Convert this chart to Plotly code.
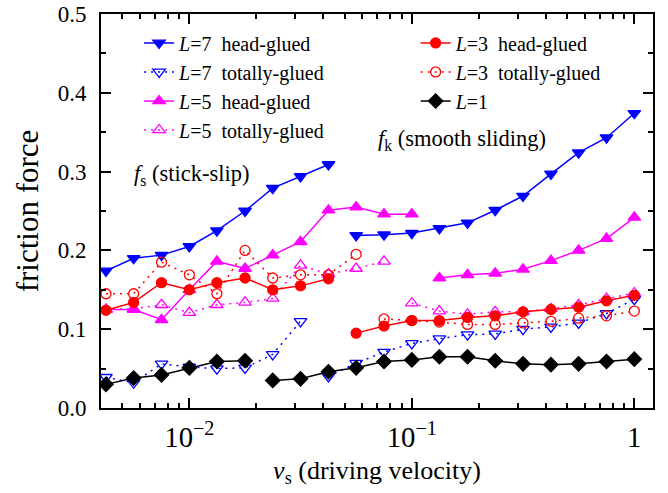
import plotly.graph_objects as go

# driving velocity (x), common for all series
velocity = [0.00422, 0.00562, 0.0075, 0.01, 0.0133, 0.0178, 0.0237, 0.0316, 0.0422, 0.0562,
            0.075, 0.1, 0.133, 0.178, 0.237, 0.316, 0.422, 0.562, 0.75, 1.0]

l7_head = [0.174, 0.190, 0.194, 0.205, 0.225, 0.250, 0.279, 0.294, 0.309,
           0.219, 0.220, 0.222, 0.228, 0.235, 0.251, 0.269, 0.297, 0.324, 0.343, 0.374]
l7_total = [0.039, 0.032, 0.056, 0.052, 0.050, 0.051, 0.068, 0.110,
            0.040, 0.057, 0.071, 0.082, 0.088, 0.093, 0.094, 0.100, 0.103, 0.108, 0.120, 0.138]
l5_head = [0.125, 0.125, 0.112, 0.150, 0.186, 0.177, 0.194, 0.211, 0.251, 0.255, 0.246, 0.246,
           0.165, 0.169, 0.171, 0.176, 0.187, 0.200, 0.215, 0.242]
l5_total = [0.125, 0.126, 0.131, 0.121, 0.131, 0.134, 0.139, 0.181, 0.170, 0.177, 0.186,
            0.133, 0.123, 0.119, 0.122, 0.122, 0.126, 0.131, 0.139, 0.146]
l3_head = [0.124, 0.134, 0.159, 0.150, 0.159, 0.165, 0.150, 0.155, 0.164,
           0.095, 0.104, 0.111, 0.111, 0.115, 0.117, 0.122, 0.125, 0.128, 0.136, 0.143]
l3_total = [0.145, 0.145, 0.185, 0.169, 0.145, 0.200, 0.165, 0.169, 0.169, 0.195,
            0.113, 0.111, 0.109, 0.106, 0.106, 0.108, 0.110, 0.114, 0.117, 0.123]
l1 = [0.030, 0.038, 0.042, 0.051, 0.059, 0.060,
      0.035, 0.037, 0.046, 0.051, 0.059, 0.061, 0.065, 0.065, 0.060, 0.056, 0.055, 0.056, 0.059, 0.062]

# index where the smooth-sliding branch starts (stick-slip branch before it)
breaks = {"l7_head": 9, "l7_total": 8, "l5_head": 12, "l5_total": 11,
          "l3_head": 9, "l3_total": 10, "l1": 6}

SP = "\u00a0\u00a0"
series = [
    ("l7_head", l7_head, f"<i>L</i>=7{SP}head-glued", "#0000FF", "triangle-down", "solid", "legend"),
    ("l7_total", l7_total, f"<i>L</i>=7{SP}totally-glued", "#0000FF", "triangle-down-open", "dot", "legend"),
    ("l5_head", l5_head, f"<i>L</i>=5{SP}head-glued", "#FF00FF", "triangle-up", "solid", "legend"),
    ("l5_total", l5_total, f"<i>L</i>=5{SP}totally-glued", "#FF00FF", "triangle-up-open", "dot", "legend"),
    ("l3_head", l3_head, f"<i>L</i>=3{SP}head-glued", "#FF0000", "circle", "solid", "legend2"),
    ("l3_total", l3_total, f"<i>L</i>=3{SP}totally-glued", "#FF0000", "circle-open", "dot", "legend2"),
    ("l1", l1, "<i>L</i>=1", "#000000", "diamond", "solid", "legend2"),
]

fig = go.Figure()
for key, ys, name, color, symbol, dash, leg in series:
    b = breaks[key]
    size = 10 if symbol.startswith("circle") else 11
    dashstyle = "2px,5px" if dash == "dot" else "solid"
    for i, (xs_seg, ys_seg) in enumerate([(velocity[:b], ys[:b]), (velocity[b:], ys[b:])]):
        fig.add_trace(go.Scatter(
            x=xs_seg, y=ys_seg, mode="lines+markers", name=name,
            legendgroup=key, showlegend=(i == 0), legend=leg,
            line=dict(color=color, width=1.5, dash=dashstyle),
            marker=dict(color=color, symbol=symbol, size=size,
                        line=dict(color=color, width=1.3)),
        ))

font_family = "Liberation Serif, Times New Roman, serif"

axis_common = dict(
    showline=True, linewidth=2, linecolor="black", mirror="ticks",
    ticks="inside", ticklen=10, tickwidth=2, tickcolor="black",
    showgrid=False, zeroline=False, automargin=False,
    tickfont=dict(family=font_family, size=23, color="black"),
)

fig.update_xaxes(
    type="log", range=[-2.397, 0.084], dtick=1, exponentformat="power",
    minor=dict(ticks="inside", ticklen=5, tickwidth=1.5, tickcolor="black", dtick="D1", showgrid=False),
    title=dict(text="<i>v</i><sub>s</sub> (driving velocity)",
               font=dict(family=font_family, size=26, color="black"), standoff=8),
    ticklabelstandoff=4,
    **axis_common,
)
fig.update_yaxes(
    range=[0, 0.5], dtick=0.1, tickformat=".1f",
    minor=dict(ticks="inside", ticklen=5, tickwidth=1.5, tickcolor="black", dtick=0.05, showgrid=False),
    title=dict(text="friction force", font=dict(family=font_family, size=31, color="black"), standoff=10),
    ticklabelstandoff=8,
    **axis_common,
)

legend_style = dict(font=dict(family=font_family, size=20, color="black"),
                    bgcolor="rgba(0,0,0,0)", borderwidth=0, yanchor="top",
                    xanchor="left", tracegroupgap=0)
fig.update_layout(
    width=668, height=493,
    margin=dict(l=101, r=15, t=14, b=85, autoexpand=False),
    paper_bgcolor="white", plot_bgcolor="white",
    legend=dict(x=0.069, y=0.976, **legend_style),
    legend2=dict(x=0.57, y=0.976, **legend_style),
    annotations=[
        dict(text="<i>f</i><sub>s</sub> (stick-slip)", xref="paper", yref="paper",
             x=0.057, y=0.591, xanchor="left", yanchor="middle", showarrow=False,
             font=dict(family=font_family, size=22.5, color="black")),
        dict(text="<i>f</i><sub>k</sub> (smooth sliding)", xref="paper", yref="paper",
             x=0.499, y=0.680, xanchor="left", yanchor="middle", showarrow=False,
             font=dict(family=font_family, size=22.5, color="black")),
    ],
)

fig.write_html("out.html")
